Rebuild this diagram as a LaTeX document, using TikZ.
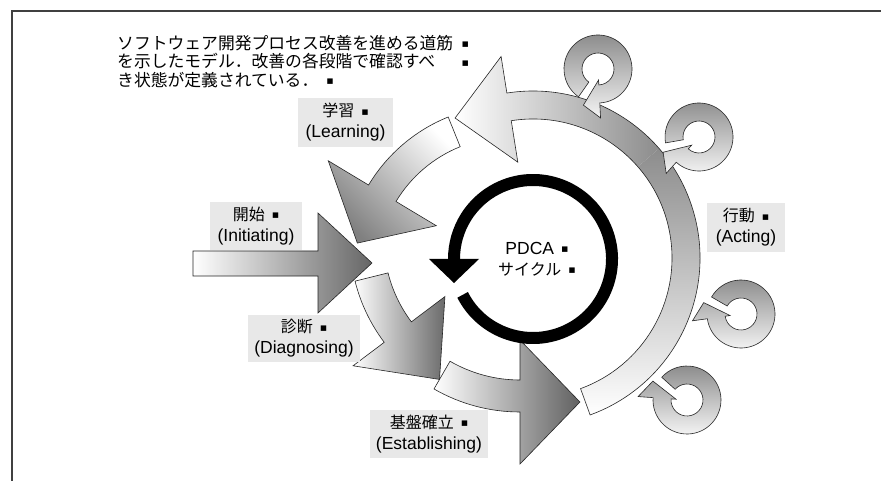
\documentclass[tikz,border=0pt]{standalone}
\usepackage{fontspec}
\setmainfont{Liberation Sans}
\newfontfamily\jp{Noto Sans CJK JP}
\newfontfamily\symf{DejaVu Sans}
\newcommand\sq{\raisebox{1.5pt}{\symf\fontsize{11}{11}\selectfont ▪}}
\newcommand\cycarrow[3]{%
  \begin{scope}[shift={(#1,#2)}]
    \path[cyc] ({-(188+#3)}:34) arc[start angle={-(188+#3)}, end angle={-(510+#3)}, radius=34]
      -- ({-(510+#3)}:16) arc[start angle={-(510+#3)}, end angle={-(188+#3)}, radius=16]
      -- ({-(188+#3)}:11) -- ({-(163+#3)}:39) -- ({-(188+#3)}:49) -- cycle;
  \end{scope}}
\begin{document}
\begin{tikzpicture}[x=1pt,y=-1pt,
  shp/.style={draw=black!85, line width=0.6pt},
  lbl/.style={fill=black!9, inner sep=0pt, align=center, font=\fontsize{17.5}{21}\selectfont},
  cyc/.style={shp, top color=black!45, bottom color=black!4},
]
\useasboundingbox (0,0) rectangle (881,481);
\fill[white] (0,0) rectangle (881,481);
\draw[line width=1.4pt, black!75] (12,481) -- (12,11) -- (881,11);

% Establishing and Diagnosing
\begin{scope}[shift={(520,240)}]
  \path[shp, left color=white, right color=black!62]
    (-240:172) arc[start angle=-240, end angle=-270, radius=172]
    -- (-270:224) -- (-290.3:172.75) -- (-270:100)
    -- (-270:140) arc[start angle=-270, end angle=-240, radius=140] -- cycle;
  \path[shp, left color=white, right color=black!58]
    (-194:170) arc[start angle=-194, end angle=-217, radius=170]
    -- (-217:209) -- (-240:161) -- (-217:94)
    -- (-217:136) arc[start angle=-217, end angle=-194, radius=136] -- cycle;
\end{scope}

% Initiating
\path[shp, left color=white, right color=black!60]
  (193,251) -- (318,251) -- (318,213) -- (372,263) -- (318,313) -- (318,276) -- (193,276) -- cycle;

% Learning
\begin{scope}[shift={(510,270)}]
  \path[shp, top color=white, bottom color=black!50, shading angle=-45]
    (-112:165) arc[start angle=-112, end angle=-149, radius=165]
    -- (-149:212) -- (-170:155) -- (-149:86)
    -- (-149:133) arc[start angle=-149, end angle=-112, radius=133] -- cycle;
\end{scope}

% Acting (big arc)
\begin{scope}[shift={(533,258)}]
  \shade[left color=white, right color=black!45]
    (-41:167) arc[start angle=-41, end angle=-99, radius=167]
    -- (-99:204) -- (-119.1:160.2) -- (-99:97)
    -- (-99:139) arc[start angle=-99, end angle=-41, radius=139] -- cycle;
  \shade[top color=black!45, bottom color=white]
    (70:167) arc[start angle=70, end angle=-41, radius=167]
    -- (-41:139) arc[start angle=-41, end angle=70, radius=139] -- cycle;
  \draw[shp]
    (70:167) arc[start angle=70, end angle=-99, radius=167]
    -- (-99:204) -- (-119.1:160.2) -- (-99:97)
    -- (-99:139) arc[start angle=-99, end angle=70, radius=139] -- cycle;
\end{scope}

% small cycles
\cycarrow{598}{69}{85}
\cycarrow{699}{137}{40}
\cycarrow{741}{314}{0}
\cycarrow{687}{400}{348}

% PDCA ring
\draw[line width=12pt] ([shift={(533,259)}]-207:79) arc[start angle=-207, end angle=-540, radius=79];
\fill (429,259) -- (479,259) -- (454,283) -- cycle;

% labels
\node[lbl, minimum width=95pt, minimum height=49pt] (learn) at (345.5,122.5) {{\jp\fontsize{16}{21}\selectfont 学習}\hspace{7pt}\sq\\(Learning)};
\node[lbl, minimum width=92pt, minimum height=48pt] (init) at (256,226) {{\jp\fontsize{16}{21}\selectfont 開始}\hspace{7pt}\sq\\(Initiating)};
\node[lbl, minimum width=112pt, minimum height=47pt] (diag) at (304,338.5) {{\jp\fontsize{16}{21}\selectfont 診断}\hspace{7pt}\sq\\(Diagnosing)};
\node[lbl, minimum width=118pt, minimum height=48pt] (estab) at (429,434) {{\jp\fontsize{16}{21}\selectfont 基盤確立}\hspace{7pt}\sq\\(Establishing)};
\node[lbl, minimum width=78pt, minimum height=49pt] (act) at (746,227.5) {{\jp\fontsize{16}{21}\selectfont 行動}\hspace{7pt}\sq\\(Acting)};
\node[inner sep=0pt, align=center, font=\fontsize{17.5}{21}\selectfont] (pdca) at (537,259) {PDCA\hspace{7pt}\sq\\{\jp\fontsize{16}{21}\selectfont サイクル}\hspace{7pt}\sq};

\node[anchor=north west, inner sep=0pt, text width=352pt, align=left, font=\fontsize{16.8}{18.5}\selectfont\jp] (desc) at (117,35)
  {ソフトウェア開発プロセス改善を進める道筋\hfill\sq\\を示したモデル．改善の各段階で確認すべ\hfill\sq\\き状態が定義されている．\hspace{8pt}\sq};
\end{tikzpicture}
\end{document}
